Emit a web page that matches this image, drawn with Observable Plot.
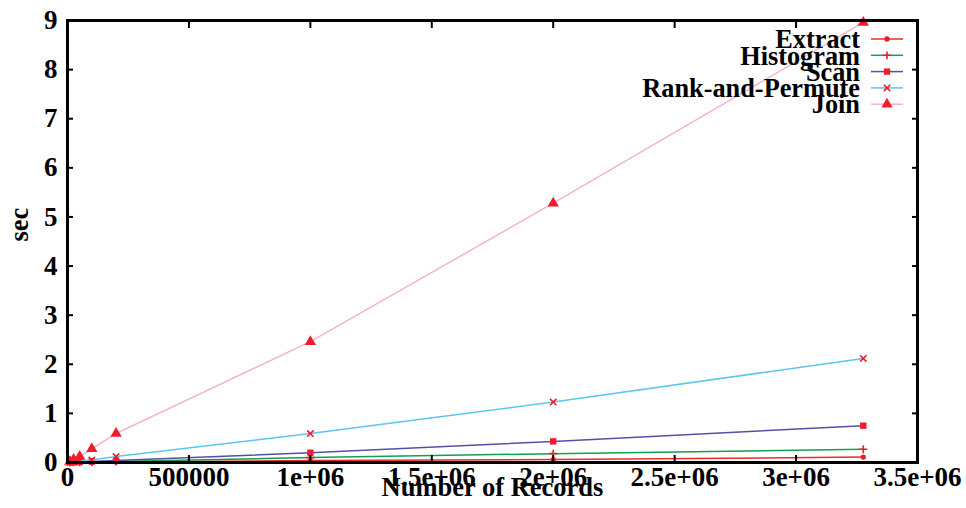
<!DOCTYPE html>
<html><head><meta charset="utf-8">
<script src="https://cdn.jsdelivr.net/npm/d3@7"></script>
<script src="https://cdn.jsdelivr.net/npm/@observablehq/plot@0.6"></script>
<style>body{margin:0;background:#fff}svg{display:block}</style>
</head><body><div id="chart"></div>
<script>
const records = [10000, 25000, 50000, 100000, 200000, 1000000, 2000000, 3276800];
const extractSec = [0.0005, 0.001, 0.002, 0.004, 0.008, 0.04, 0.06, 0.11];
const histogramSec = [0.001, 0.003, 0.005, 0.01, 0.02, 0.1, 0.18, 0.27];
const scanSec = [0.002, 0.005, 0.01, 0.02, 0.04, 0.2, 0.43, 0.75];
const rankPermuteSec = [0.005, 0.01, 0.03, 0.05, 0.12, 0.59, 1.23, 2.12];
const joinSec = [0.02, 0.06, 0.12, 0.28, 0.59, 2.46, 5.28, 8.96];

const seriesNames = ["Extract", "Histogram", "Scan", "Rank-and-Permute", "Join"];
const seriesValues = [extractSec, histogramSec, scanSec, rankPermuteSec, joinSec];
const seriesColors = ["#ee2a2a", "#11a050", "#5252a4", "#5cc6ee", "#f4b4cc"];
const seriesSymbols = ["circle", "plus", "square", "times", "triangle"];
const markerColor = "#ee1c2c";

const xTicks = [0, 500000, 1000000, 1500000, 2000000, 2500000, 3000000, 3500000];
const xTickLabels = ["0", "500000", "1e+06", "1.5e+06", "2e+06", "2.5e+06", "3e+06", "3.5e+06"];
const yTicks = [0, 1, 2, 3, 4, 5, 6, 7, 8, 9];

const d3Symbols = {circle: d3.symbolCircle, plus: d3.symbolPlus, square: d3.symbolSquare, times: d3.symbolTimes, triangle: d3.symbolTriangle};
const symbolSizes = {circle: 22, plus: 22, square: 40, times: 28, triangle: 55};
const strokeSymbols = new Set(["plus", "times"]);

const marks = [];
seriesNames.forEach((name, i) => {
  const rows = records.map((x, j) => ({x, y: seriesValues[i][j]}));
  marks.push(Plot.line(rows, {x: "x", y: "y", stroke: seriesColors[i], strokeWidth: 1.5}));
  const sym = seriesSymbols[i];
  const r = {circle: 2.6, plus: 2.7, square: 3.6, times: 3.0, triangle: 4.2}[sym];
  marks.push(Plot.dot(rows, strokeSymbols.has(sym)
    ? {x: "x", y: "y", symbol: sym, r, stroke: markerColor, strokeWidth: 1.6, fill: "none"}
    : {x: "x", y: "y", symbol: sym, r, fill: markerColor, stroke: "none"}));
});

// axes: labels
marks.push(Plot.axisX(xTicks, {anchor: "bottom", tickSize: 0, tickPadding: 4, fontSize: 27, label: null,
  tickFormat: d => xTickLabels[xTicks.indexOf(d)]}));
marks.push(Plot.axisY(yTicks, {anchor: "left", tickSize: 0, tickPadding: 10, fontSize: 27, label: null}));
// inward ticks (mirrored)
marks.push(Plot.axisX(xTicks, {anchor: "bottom", tickSize: 7, dy: -7, fill: null, label: null, strokeWidth: 2}));
marks.push(Plot.axisX(xTicks, {anchor: "top", tickSize: 7, dy: 7, fill: null, label: null, strokeWidth: 2}));
marks.push(Plot.axisY(yTicks, {anchor: "left", tickSize: 6, dx: 6, fill: null, label: null, strokeWidth: 2}));
marks.push(Plot.axisY(yTicks, {anchor: "right", tickSize: 6, dx: -6, fill: null, label: null, strokeWidth: 2}));
marks.push(Plot.frame({stroke: "black", strokeWidth: 3}));

// axis titles
marks.push(Plot.text(["Number of Records"], {frameAnchor: "bottom", dy: 33, fontSize: 26.5, fill: "black"}));
marks.push(Plot.text(["sec"], {frameAnchor: "left", dx: -48, rotate: -90, fontSize: 26.5, fill: "black"}));

// legend
marks.push((index, scales, values, dimensions) => {
  const g = d3.create("svg:g");
  const xr = dimensions.width - dimensions.marginRight;
  seriesNames.forEach((name, i) => {
    const y = dimensions.marginTop + 19 + i * 16.3;
    g.append("line").attr("x1", xr - 46).attr("x2", xr - 14).attr("y1", y).attr("y2", y)
      .attr("stroke", seriesColors[i]).attr("stroke-width", 1.5);
    const sym = seriesSymbols[i];
    const p = g.append("path").attr("transform", `translate(${xr - 30},${y})`)
      .attr("d", d3.symbol(d3Symbols[sym], symbolSizes[sym])());
    if (strokeSymbols.has(sym)) p.attr("fill", "none").attr("stroke", markerColor).attr("stroke-width", 1.6);
    else p.attr("fill", markerColor);
    g.append("text").attr("x", xr - 57).attr("y", y).attr("dy", "0.35em")
      .attr("text-anchor", "end").attr("font-size", 26.3).attr("fill", "black").text(name);
  });
  return g.node();
});

const chart = Plot.plot({
  width: 966, height: 508,
  marginLeft: 67, marginRight: 49, marginTop: 20, marginBottom: 46,
  x: {domain: [0, 3500000]},
  y: {domain: [0, 9]},
  style: {fontFamily: "'Liberation Serif', 'DejaVu Serif', serif", fontWeight: "bold", fontSize: "25px", background: "white", color: "black"},
  marks
});
document.getElementById("chart").appendChild(chart);
</script>
</body></html>
